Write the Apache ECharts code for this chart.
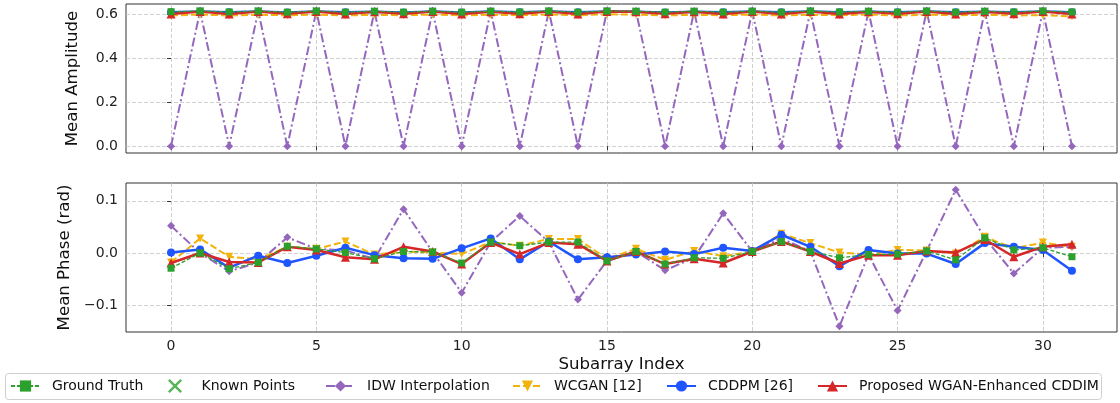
<!DOCTYPE html>
<html>
<head>
<meta charset="utf-8">
<script src="https://cdn.jsdelivr.net/npm/echarts@6/dist/echarts.min.js"></script>
<style>
  html, body { margin: 0; padding: 0; background: #fff; }
  #chart { width: 1120px; height: 403px; }
</style>
</head>
<body>
<div id="chart"></div>
<script>
// Subarray indices on the shared horizontal axis
const subarrayIndex = [0,1,2,3,4,5,6,7,8,9,10,11,12,13,14,15,16,17,18,19,20,21,22,23,24,25,26,27,28,29,30,31];
const knownIdx = [1,3,5,7,9,11,13,15,16,18,20,22,24,26,28,30];

const xTicks = [0, 5, 10, 15, 20, 25, 30];
const ampTicks = [0.0, 0.2, 0.4, 0.6];
const phaseTicks = [-0.1, 0.0, 0.1];

// Mean amplitude per subarray
const gtAmp    = [0.611,0.614,0.610,0.614,0.609,0.614,0.609,0.613,0.609,0.613,0.609,0.613,0.610,0.614,0.609,0.614,0.613,0.609,0.613,0.609,0.613,0.609,0.614,0.610,0.613,0.609,0.614,0.609,0.613,0.610,0.614,0.610];
const idwAmp   = [0,0.614,0,0.614,0,0.614,0,0.613,0,0.613,0,0.613,0,0.614,0,0.614,0.613,0,0.613,0,0.613,0,0.614,0,0.613,0,0.614,0,0.613,0,0.614,0];
const wcganAmp = [0.594,0.598,0.594,0.597,0.595,0.598,0.594,0.597,0.595,0.598,0.594,0.597,0.595,0.598,0.595,0.599,0.598,0.594,0.597,0.595,0.598,0.594,0.597,0.595,0.598,0.594,0.597,0.595,0.597,0.594,0.595,0.590];
const cddpmAmp = [0.609,0.612,0.608,0.612,0.607,0.612,0.608,0.611,0.607,0.612,0.607,0.612,0.608,0.612,0.608,0.612,0.611,0.607,0.611,0.608,0.612,0.608,0.612,0.608,0.611,0.608,0.612,0.608,0.611,0.608,0.612,0.609];
const propAmp  = [0.601,0.612,0.600,0.612,0.602,0.612,0.601,0.611,0.602,0.612,0.601,0.611,0.602,0.612,0.601,0.612,0.611,0.602,0.611,0.601,0.612,0.600,0.612,0.601,0.611,0.602,0.612,0.601,0.611,0.602,0.612,0.600];

// Mean phase (rad) per subarray
const gtPhase    = [-0.029,0.000,-0.030,-0.018,0.013,0.008,0.001,-0.011,0.003,0.002,-0.019,0.021,0.014,0.021,0.021,-0.015,0.003,-0.021,-0.009,-0.010,0.003,0.022,0.003,-0.009,-0.003,-0.002,0.004,-0.013,0.029,0.006,0.010,-0.007];
const idwPhase   = [0.052,0.000,-0.035,-0.018,0.030,0.008,0.005,-0.011,0.084,0.002,-0.076,0.021,0.071,0.021,-0.089,-0.015,0.003,-0.033,-0.009,0.076,0.003,0.028,0.003,-0.140,-0.003,-0.110,0.004,0.121,0.029,-0.039,0.010,0.012];
const wcganPhase = [-0.018,0.028,-0.007,-0.012,0.012,0.008,0.022,-0.003,0.003,0.001,-0.002,0.021,0.014,0.027,0.027,-0.011,0.008,-0.013,0.004,-0.006,0.003,0.037,0.019,0.001,-0.003,0.006,0.005,-0.001,0.031,0.009,0.020,0.012];
const cddpmPhase = [0.001,0.007,-0.028,-0.005,-0.019,-0.005,0.010,-0.004,-0.010,-0.011,0.009,0.028,-0.012,0.022,-0.012,-0.008,-0.003,0.003,-0.002,0.010,0.004,0.035,0.012,-0.025,0.006,-0.001,-0.001,-0.021,0.019,0.012,0.006,-0.034];
const propPhase  = [-0.019,0.000,-0.017,-0.018,0.012,0.006,-0.008,-0.012,0.012,0.003,-0.021,0.020,-0.002,0.020,0.017,-0.015,0.003,-0.021,-0.011,-0.019,0.003,0.022,0.003,-0.020,-0.004,-0.004,0.004,0.001,0.026,-0.007,0.012,0.017];

const legendNames = ['Ground Truth', 'Known Points', 'IDW Interpolation', 'WCGAN [12]', 'CDDPM [26]', 'Proposed WGAN-Enhanced CDDIM'];
const legendLeft  = [10, 168, 325, 512, 666, 817];

const FONT = 'DejaVu Sans';
const C_GT = '#2ca02c', C_IDW = '#9467bd', C_WC = '#f2b30c', C_CD = '#1f55ff', C_PR = '#d62728';
const X_SYMBOL = 'path://M0,1.2 L1.2,0 L5,3.8 L8.8,0 L10,1.2 L6.2,5 L10,8.8 L8.8,10 L5,6.2 L1.2,10 L0,8.8 L3.8,5 Z';
const DOWN_TRI = 'path://M0,0 L10,0 L5,9 Z';

const pairs = (vals) => subarrayIndex.map((x, i) => [x, vals[i]]);
const knownPairs = (vals) => knownIdx.map(i => [subarrayIndex[i], vals[i]]);
const fmt = (v) => (v < 0 ? '\u2212' : '') + Math.abs(v).toFixed(1);

const gridLine = { show: true, lineStyle: { color: '#c4c4c4', type: [4, 2], width: 0.8 } };
const tickStyle = { color: '#333', width: 1 };

function xAxis(gridIndex, showLabels, name) {
  return {
    type: 'value', gridIndex, min: -1.55, max: 32.55,
    axisLine: { show: false },
    axisTick: { show: true, length: 4, lineStyle: tickStyle, customValues: xTicks },
    axisLabel: { show: showLabels, customValues: xTicks, color: '#222', fontFamily: FONT, fontSize: 14, margin: 7, formatter: (v) => String(v) },
    splitLine: gridLine,
    name: name || '', nameLocation: 'middle', nameGap: 24,
    nameTextStyle: { fontFamily: FONT, fontSize: 16.6, color: '#111' }
  };
}
function yAxis(gridIndex, min, max, ticks, name) {
  return {
    type: 'value', gridIndex, min, max,
    axisLine: { show: false },
    axisTick: { show: true, length: 4, lineStyle: tickStyle, customValues: ticks },
    axisLabel: { customValues: ticks, color: '#222', fontFamily: FONT, fontSize: 14, margin: 8, formatter: fmt },
    splitLine: gridLine,
    name, nameLocation: 'middle', nameGap: 45,
    nameTextStyle: { fontFamily: FONT, fontSize: 16.6, color: '#111' }
  };
}

function panelSeries(idx, idw, wc, cd, pr, gt) {
  const base = { type: 'line', xAxisIndex: idx, yAxisIndex: idx, animation: false, showAllSymbol: true };
  return [
    Object.assign({}, base, { name: 'IDW Interpolation', data: pairs(idw), color: C_IDW, symbol: 'diamond', symbolSize: 8,
      lineStyle: { width: 2, type: [9, 3, 2, 3] }, z: 2 }),
    Object.assign({}, base, { name: 'WCGAN [12]', data: pairs(wc), color: C_WC, symbol: DOWN_TRI, symbolSize: 8,
      lineStyle: { width: 2, type: [7, 3] }, z: 3 }),
    Object.assign({}, base, { name: 'CDDPM [26]', data: pairs(cd), color: C_CD, symbol: 'circle', symbolSize: 8,
      lineStyle: { width: 2.5 }, z: 4 }),
    Object.assign({}, base, { name: 'Proposed WGAN-Enhanced CDDIM', data: pairs(pr), color: C_PR, symbol: 'triangle', symbolSize: 9,
      lineStyle: { width: 2.5 }, z: 5 }),
    Object.assign({}, base, { name: 'Ground Truth', data: pairs(gt), color: C_GT, symbol: 'rect', symbolSize: 7,
      lineStyle: { width: 1.3, type: [4, 2] }, z: 6 }),
    { type: 'scatter', name: 'Known Points', xAxisIndex: idx, yAxisIndex: idx, animation: false,
      data: knownPairs(gt), color: C_GT, symbol: X_SYMBOL, symbolSize: 8, z: 7 }
  ];
}

// One legend entry per component so each entry sits in its own column
const legends = legendNames.map((name, i) => ({
  left: legendLeft[i], top: 379, padding: 0,
  data: [name], itemWidth: 29, itemHeight: 14,
  selectedMode: false,
  textStyle: { fontFamily: FONT, fontSize: 14, color: '#111', padding: [0, 0, 0, 7] }
}));

const chart = echarts.init(document.getElementById('chart'), null, { renderer: 'canvas' });
chart.setOption({
  animation: false,
  backgroundColor: '#ffffff',
  textStyle: { fontFamily: FONT },
  grid: [
    { left: 126, right: 3, top: 4, height: 149, show: true, borderColor: '#333', borderWidth: 1, backgroundColor: 'transparent' },
    { left: 126, right: 3, top: 183, height: 149, show: true, borderColor: '#333', borderWidth: 1, backgroundColor: 'transparent' }
  ],
  graphic: [{
    type: 'rect', z: -1,
    shape: { x: 5.5, y: 373.5, width: 1096, height: 26, r: 3 },
    style: { fill: '#ffffff', stroke: '#cfcfcf', lineWidth: 1 }
  }],
  xAxis: [xAxis(0, false), xAxis(1, true, 'Subarray Index')],
  yAxis: [yAxis(0, -0.031, 0.646, ampTicks, 'Mean Amplitude'), yAxis(1, -0.151, 0.134, phaseTicks, 'Mean Phase (rad)')],
  legend: legends,
  series: [
    ...panelSeries(0, idwAmp, wcganAmp, cddpmAmp, propAmp, gtAmp),
    ...panelSeries(1, idwPhase, wcganPhase, cddpmPhase, propPhase, gtPhase)
  ]
});
</script>
</body>
</html>
